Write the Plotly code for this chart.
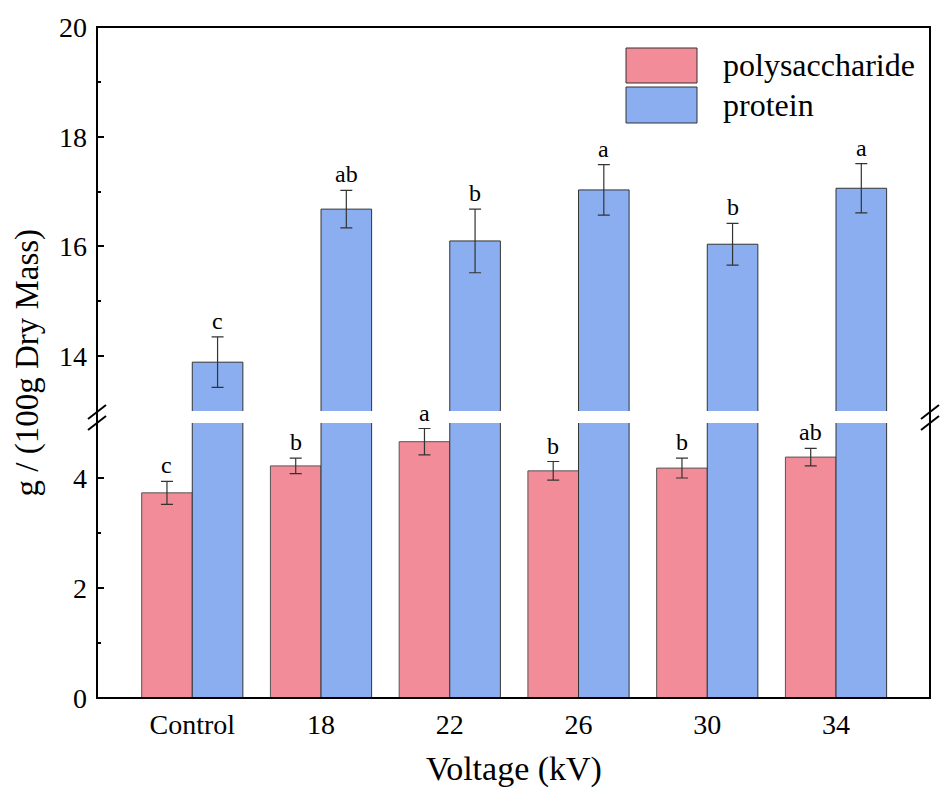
import plotly.graph_objects as go

categories = ["Control", "18", "22", "26", "30", "34"]
poly = [3.73, 4.22, 4.66, 4.13, 4.18, 4.38]
poly_err = [0.21, 0.14, 0.24, 0.17, 0.18, 0.16]
poly_letters = ["c", "b", "a", "b", "b", "ab"]
protein = [13.89, 16.68, 16.10, 17.03, 16.04, 17.06]
protein_err = [0.46, 0.34, 0.58, 0.46, 0.38, 0.45]
protein_letters = ["c", "ab", "b", "a", "b", "a"]

PINK = "rgb(241,140,152)"
BLUE = "rgb(138,174,240)"
FONT = "Liberation Serif"

xs = list(range(len(categories)))
W = 0.393

fig = go.Figure()
# lower panel
fig.add_trace(go.Bar(x=xs, y=poly, width=W, offset=-W, marker=dict(color=PINK, line=dict(color="#555", width=1)),
                     error_y=dict(type="data", array=poly_err, color="#333", thickness=1.2, width=6),
                     xaxis="x", yaxis="y", showlegend=False))
fig.add_trace(go.Bar(x=xs, y=protein, width=W, offset=0, marker=dict(color=BLUE, line=dict(color="#333", width=1)),
                     xaxis="x", yaxis="y", showlegend=False))
# upper panel
fig.add_trace(go.Bar(x=xs, y=protein, width=W, offset=0, marker=dict(color=BLUE, line=dict(color="#333", width=1)),
                     error_y=dict(type="data", array=protein_err, color="#333", thickness=1.2, width=6),
                     xaxis="x2", yaxis="y2", showlegend=False))

ann = []
for i in xs:
    ann.append(dict(x=i - W / 2, y=poly[i] + poly_err[i], xref="x", yref="y", text=poly_letters[i],
                    showarrow=False, yanchor="bottom", yshift=1, font=dict(family=FONT, size=24, color="black")))
    ann.append(dict(x=i + W / 2, y=protein[i] + protein_err[i], xref="x2", yref="y2", text=protein_letters[i],
                    showarrow=False, yanchor="bottom", yshift=1, font=dict(family=FONT, size=24, color="black")))

# titles
ann.append(dict(x=0.5, y=-0.106, xref="paper", yref="paper", text="Voltage (kV)", showarrow=False,
                yanchor="middle", font=dict(family=FONT, size=34, color="black")))
ann.append(dict(x=-0.084, y=0.5, xref="paper", yref="paper", text="g / (100g Dry Mass)", showarrow=False,
                textangle=-90, xanchor="center", yanchor="middle", font=dict(family=FONT, size=33, color="black")))

# legend (drawn)
shapes = []
L, R, T, B = 97, 930, 27, 698
PW, PH = R - L, B - T
def px(x):
    return (x - L) / PW
def py(y):
    return (B - y) / PH

for (y0, y1, col, label) in [(48, 83, PINK, "polysaccharide"), (87, 123, BLUE, "protein")]:
    shapes.append(dict(type="rect", xref="paper", yref="paper", x0=px(626), x1=px(697), y0=py(y1), y1=py(y0),
                       fillcolor=col, line=dict(color="#333", width=1)))
    ann.append(dict(x=px(721), y=py((y0 + y1) / 2), xref="paper", yref="paper", text=label, showarrow=False,
                    xanchor="left", yanchor="middle", font=dict(family=FONT, size=32, color="black")))

# frame
shapes.append(dict(type="rect", xref="paper", yref="paper", x0=0, x1=1, y0=0, y1=1, line=dict(color="black", width=2)))
# break marks
for xc in (L, R):
    for yc in (412, 423):
        shapes.append(dict(type="line", xref="paper", yref="paper", x0=px(xc - 9), x1=px(xc + 9),
                           y0=py(yc + 7), y1=py(yc - 7), line=dict(color="black", width=2)))

split_lo = py(423)
split_hi = py(411)

axis_common = dict(showgrid=False, zeroline=False, color="black")
fig.update_layout(
    width=940, height=788,
    margin=dict(l=L, r=940 - R, t=T, b=788 - B),
    paper_bgcolor="white", plot_bgcolor="white",
    barmode="overlay",
    font=dict(family=FONT, color="black"),
    xaxis=dict(domain=[0, 1], range=[-0.74, 5.73], tickvals=xs, ticktext=categories, ticks="",
               tickfont=dict(size=28), anchor="y", showline=False, ticklabelstandoff=7, **axis_common),
    xaxis2=dict(domain=[0, 1], range=[-0.74, 5.73], anchor="y2", showticklabels=False, ticks="",
                matches="x", **axis_common),
    yaxis=dict(domain=[0, split_lo], range=[0, 5], tickvals=[0, 2, 4], ticks="inside", ticklen=7, tickwidth=2,
               tickcolor="black", tickfont=dict(size=28), ticklabelstandoff=9,
               minor=dict(tickvals=[1, 3], ticks="inside", ticklen=4, tickwidth=2, tickcolor="black"),
               anchor="x", **axis_common),
    yaxis2=dict(domain=[split_hi, 1], range=[13, 20], tickvals=[14, 16, 18, 20], ticks="inside", ticklen=7,
                tickwidth=2, tickcolor="black", tickfont=dict(size=28), ticklabelstandoff=9,
                minor=dict(tickvals=[15, 17, 19], ticks="inside", ticklen=4, tickwidth=2, tickcolor="black"),
                anchor="x2", **axis_common),
    annotations=ann,
    shapes=shapes,
)

fig.write_html("out.html")
